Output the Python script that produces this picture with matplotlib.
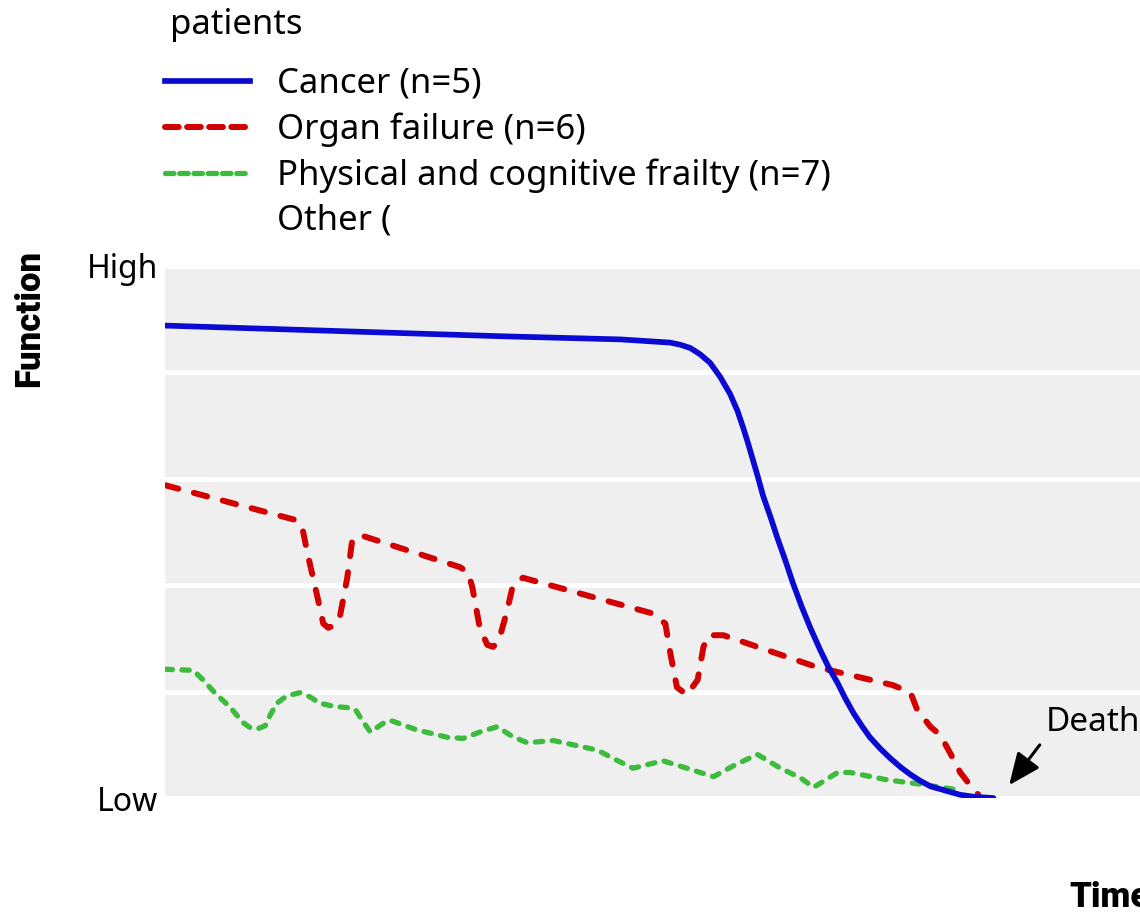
import matplotlib.pyplot as plt
from matplotlib.lines import Line2D

# Trajectories of decline: time runs 0..100 (death at 100), function 0 (Low)..5 (High)
cancer_x = [0, 16.3, 40.5, 55.0, 61.0, 62.2, 63.4, 64.6, 65.8, 67.0, 68.2, 69.1, 69.8,
            70.4, 71.0, 71.6, 72.2, 73.1, 73.9, 74.9, 75.8, 76.9, 77.9, 79.1, 80.1,
            81.2, 82.1, 83.1, 84.1, 85.1, 86.4, 87.6, 88.8, 90.0, 91.2, 92.4, 94.2,
            96.0, 97.8, 100.0]
cancer_y = [4.44, 4.40, 4.34, 4.31, 4.28, 4.26, 4.23, 4.17, 4.09, 3.96, 3.80, 3.64, 3.48,
            3.33, 3.17, 3.01, 2.84, 2.64, 2.45, 2.23, 2.02, 1.79, 1.60, 1.39, 1.23,
            1.08, 0.94, 0.80, 0.68, 0.57, 0.46, 0.37, 0.29, 0.22, 0.16, 0.11, 0.07,
            0.03, 0.01, 0.0]

organ_x = [0, 13.5, 15.9, 16.6, 17.2, 18.4, 19.1, 19.7, 20.4, 21.1, 22.0, 22.6, 23.6,
           35.6, 36.6, 37.1, 38.0, 38.9, 39.6, 40.3, 41.3, 42.0, 43.2,
           58.6, 60.4, 61.0, 61.8, 63.0, 64.3, 65.0, 65.6, 67.4,
           78.7, 87.9, 90.0, 90.8, 92.4, 93.6, 94.8, 96.0, 97.5, 98.2]
organ_y = [2.94, 2.66, 2.61, 2.53, 2.30, 1.89, 1.64, 1.60, 1.62, 1.70, 2.07, 2.42, 2.47,
           2.17, 2.12, 1.98, 1.60, 1.44, 1.42, 1.48, 1.76, 2.00, 2.07,
           1.74, 1.64, 1.36, 1.04, 0.97, 1.11, 1.42, 1.53, 1.53,
           1.23, 1.06, 0.99, 0.83, 0.67, 0.59, 0.42, 0.24, 0.09, 0.03]

frailty_x = [0, 3.4, 4.6, 6.0, 7.9, 9.4, 10.3, 11.2, 12.1, 12.7, 13.5, 14.7, 16.3, 17.5,
             18.7, 20.5, 22.0, 23.0, 23.8, 24.8, 26.3, 27.2, 30.4, 34.1, 36.0, 38.0,
             40.1, 41.9, 43.7, 46.9, 52.2, 54.4, 56.5, 60.1, 63.4, 66.2, 68.8, 71.5,
             74.3, 76.7, 78.3, 81.2, 82.7, 87.2, 91.2, 95.4]
frailty_y = [1.21, 1.20, 1.11, 0.99, 0.85, 0.71, 0.66, 0.65, 0.68, 0.78, 0.89, 0.96, 0.99,
             0.95, 0.89, 0.86, 0.85, 0.83, 0.73, 0.62, 0.70, 0.73, 0.64, 0.57, 0.56, 0.62,
             0.67, 0.58, 0.52, 0.54, 0.45, 0.36, 0.28, 0.35, 0.27, 0.20, 0.31, 0.41,
             0.28, 0.19, 0.10, 0.24, 0.24, 0.17, 0.13, 0.08]

levels = [0, 1, 2, 3, 4, 5]
level_labels = ["Low", "", "", "", "", "High"]
legend_labels = ["Cancer (n=5)", "Organ failure (n=6)",
                 "Physical and cognitive frailty (n=7)", "Other ("]

BLUE = "#0a0ad2"
RED = "#d20000"
GREEN = "#3dbb3d"
FONT = "Noto Sans"
BOLD_FONT = "Roboto"

plt.rcParams["font.family"] = FONT

fig = plt.figure(figsize=(11.4, 9.13), dpi=100)
ax = fig.add_axes([165 / 1140, 115 / 913, 1 - 165 / 1140, 532 / 913])
ax.set_facecolor("#efefef")

ax.plot(cancer_x, cancer_y, color=BLUE, lw=4.1, solid_capstyle="round",
        solid_joinstyle="round", zorder=4)
ax.plot(organ_x, organ_y, color=RED, lw=4.3, dashes=(2.3, 2.7),
        dash_capstyle="round", dash_joinstyle="round", zorder=3)
ax.plot(frailty_x, frailty_y, color=GREEN, lw=3.8, dashes=(1.4, 1.8),
        dash_capstyle="round", dash_joinstyle="round", zorder=2)

ax.set_xlim(0, 117.7)
ax.set_ylim(0, 5)
ax.set_xticks([])
ax.set_yticks(levels)
ax.set_yticklabels(level_labels, fontsize=23)
ax.tick_params(axis="y", length=0, pad=5)
ax.grid(axis="y", color="white", lw=3.5)
ax.set_axisbelow(True)
for s in ax.spines.values():
    s.set_visible(False)

# death marker
ax.annotate("", xy=(101.7, 0.10), xytext=(105.8, 0.52),
            arrowprops=dict(arrowstyle="-|>,head_length=0.65,head_width=0.28",
                            color="black", lw=2.2, mutation_scale=30),
            annotation_clip=False)
ax.text(106.3, 0.71, "Death", fontsize=24, va="center", ha="left", clip_on=False)

fig.text(30 / 1140, 1 - 318 / 913, "Function", rotation=90, fontsize=25,
         fontweight="black", family=BOLD_FONT, ha="center", va="center")
fig.text(1069 / 1140, 1 - 897 / 913, "Time", fontsize=25, fontweight="black",
         family=BOLD_FONT, ha="left", va="center")

fig.text(170 / 1140, 1 - 25 / 913, "patients", fontsize=25, ha="left", va="center")

handles = [
    Line2D([], [], color=BLUE, lw=4.1),
    Line2D([], [], color=RED, lw=4.3, dashes=(2.3, 1.4), dash_capstyle="round"),
    Line2D([], [], color=GREEN, lw=3.8, dashes=(1.6, 1.1), dash_capstyle="round"),
    Line2D([], [], color="none"),
]
leg = fig.legend(handles, legend_labels, loc="upper left",
                 bbox_to_anchor=(165 / 1140, 1 - 67 / 913), frameon=False,
                 fontsize=25, handlelength=2.45, handletextpad=0.78,
                 labelspacing=0.325, borderpad=0, borderaxespad=0)

fig.savefig("out.png", dpi=100)
